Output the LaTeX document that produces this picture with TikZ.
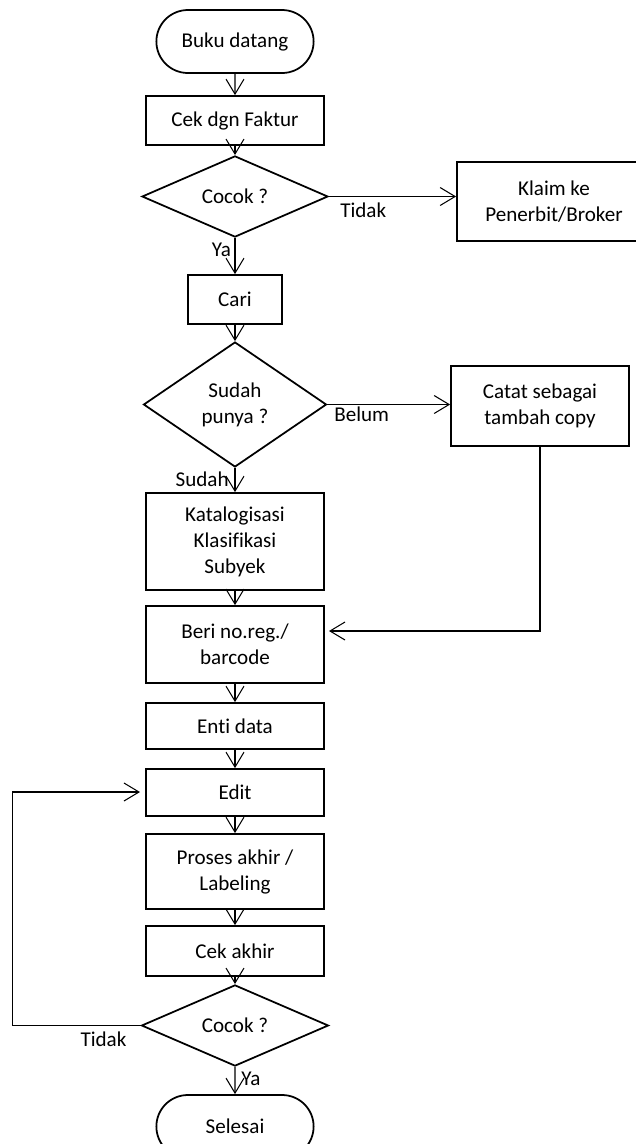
\documentclass[tikz,border=0pt]{standalone}
\usepackage{fontspec}
\setmainfont{Carlito}[Ligatures={NoCommon}]
\usepackage{tikz}
\usetikzlibrary{arrows.meta,positioning,shapes.geometric,shapes.misc}

\begin{document}
\begin{tikzpicture}[x=0.02cm,y=-0.02cm,
  term/.style={rounded rectangle,draw,line width=1pt,minimum width=3.38cm,minimum height=1.26cm,font=\fontsize{12}{14.8}\selectfont},
  proc/.style={rectangle,draw,line width=1pt,minimum width=3.56cm,align=center,font=\fontsize{12}{14.8}\selectfont},
  dec/.style={diamond,draw,line width=1pt,inner sep=0pt,align=center,font=\fontsize{12}{14.8}\selectfont},
  rx/.style={-{Straight Barb[length=3mm,width=3.6mm]},line width=0.6pt},
  lab/.style={font=\fontsize{12}{14.8}\selectfont}]
  \useasboundingbox (0,0) rectangle (636,1144);
  \node[term] (start) at (235,41.5) {Buku datang};
  \node[proc,minimum height=0.98cm] (cek) at (235,120.5) {Cek dgn Faktur};
  \node[dec,minimum width=3.72cm,minimum height=1.3cm] (cocok1) at (235,196.5) {Cocok ?};
  \node[proc,minimum width=3.88cm,minimum height=1.58cm] (klaim) at (554,201.5) {Klaim ke\\Penerbit/Broker};
  \node[proc,minimum width=1.88cm,minimum height=0.98cm] (cari) at (235,299.5) {Cari};
  \node[dec,minimum width=3.66cm,minimum height=2.5cm] (punya) at (235,404.5) {Sudah\\punya ?};
  \node[proc,minimum height=1.6cm] (catat) at (540,406) {Catat sebagai\\tambah copy};
  \node[proc,minimum height=1.94cm] (katalog) at (235,541.5) {Katalogisasi\\Klasifikasi\\Subyek};
  \node[proc,minimum height=1.54cm] (beri) at (235,644.5) {Beri no.reg./\\barcode};
  \node[proc,minimum height=0.92cm] (enti) at (235,726) {Enti data};
  \node[proc,minimum height=0.94cm] (edit) at (235,792.5) {Edit};
  \node[proc,minimum height=1.5cm] (proses) at (235,871.5) {Proses akhir /\\Labeling};
  \node[proc,minimum height=1.0cm] (cekakhir) at (235,951) {Cek akhir};
  \node[dec,minimum width=3.74cm,minimum height=1.3cm] (cocok2) at (235,1025.5) {Cocok ?};
  \node[term] (selesai) at (235,1126.5) {Selesai};
  \coordinate (berin) at (329,631);
  \coordinate (editin) at (140,792);
  \draw[rx] (start) -- (cek);
  \draw[rx] (cek) -- (cocok1);
  \draw[rx] (cocok1.east) -- node[lab,below,pos=0.27] {Tidak} (cocok1.east -| klaim.west);
  \draw[rx] (cocok1) -- node[lab,left,pos=0.32,inner sep=2pt] {Ya} (cari);
  \draw[rx] (cari) -- (punya);
  \draw[rx] (punya.east) -- node[lab,below,pos=0.28,inner sep=1pt] {Belum} (punya.east -| catat.west);
  \draw[rx] (punya) -- node[lab,left,pos=0.46] {Sudah} (katalog);
  \draw[rx] (katalog) -- (beri);
  \draw[rx] (catat.south) |- (berin);
  \draw[rx] (beri) -- (enti);
  \draw[rx] (enti) -- (edit);
  \draw[rx] (edit) -- (proses);
  \draw[rx] (proses) -- (cekakhir);
  \draw[rx] (cekakhir) -- (cocok2);
  \draw[rx] (cocok2.west) -- node[lab,below,pos=0.29] {Tidak} ++(-128,0) |- (editin);
  \draw[rx] (cocok2) -- node[lab,right,pos=0.45] {Ya} (selesai);
\end{tikzpicture}
\end{document}
